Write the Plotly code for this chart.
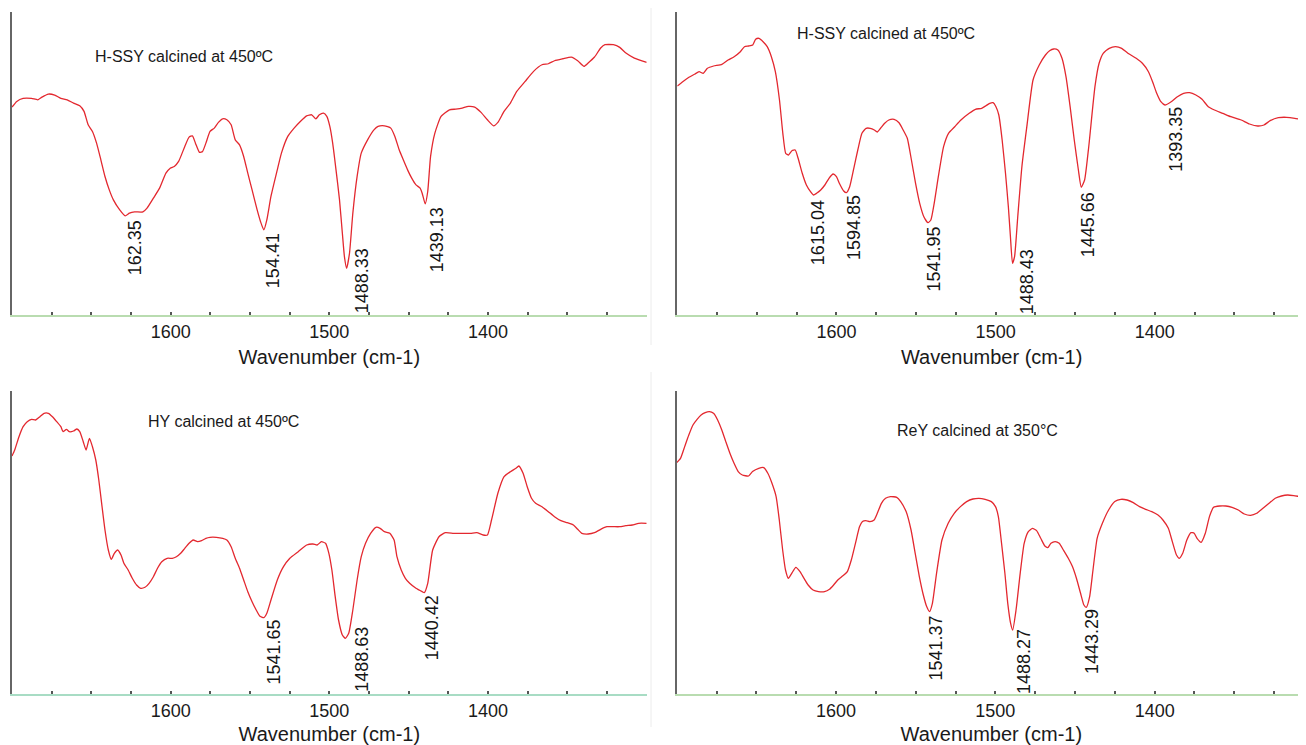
import plotly.graph_objects as go

# ---------------- data (wavenumber in cm-1, transmittance in arbitrary units) ----------------
p1_wn = [1700, 1697.0, 1693.0, 1687.7, 1683.7, 1681.1, 1677.1, 1673.1, 1669.2, 1665.2, 1661.2, 1657.3,
         1654.6, 1652.0, 1649.3, 1646.7, 1644.0, 1641.4, 1638.7, 1636.1, 1632.1, 1628.7, 1626.0, 1622.8,
         1617.5, 1614.9, 1610.9, 1607.0, 1603.0, 1600.3, 1597.7, 1595.0, 1591.1, 1588.4, 1586.3, 1584.4,
         1581.8, 1579.9, 1577.8, 1575.2, 1572.5, 1569.9, 1567.2, 1564.6, 1561.9, 1559.3, 1556.6, 1554.0,
         1551.4, 1548.7, 1545.5, 1543.4, 1541.3, 1539.4, 1536.8, 1532.8, 1530.2, 1526.2, 1522.2, 1518.3,
         1514.3, 1511.1, 1508.5, 1506.3, 1503.7, 1501.6, 1499.7, 1497.9, 1495.8, 1493.6, 1491.8, 1490.5,
         1489.1, 1487.3, 1485.2, 1482.5, 1479.9, 1475.9, 1471.9, 1469.3, 1465.3, 1461.3, 1458.7, 1456.0,
         1453.4, 1450.7, 1448.1, 1445.4, 1442.8, 1441.5, 1439.6, 1438.0, 1436.2, 1433.5, 1429.6, 1424.3,
         1420.3, 1416.3, 1412.4, 1408.4, 1404.4, 1400.4, 1396.5, 1393.8, 1389.9, 1385.9, 1381.9, 1376.6,
         1371.3, 1366.0, 1362.0, 1358.1, 1352.8, 1347.5, 1343.5, 1339.5, 1336.9, 1332.9, 1329.0, 1326.3,
         1321.0, 1317.0, 1313.1, 1307.8, 1300]
p1_t = [208, 213.7, 216.7, 216.7, 215.3, 218, 221, 220, 216.7, 215.3, 212, 209.3,
        203.7, 190.3, 183.7, 172, 155.3, 138.7, 125.3, 115.3, 105.3, 99.3, 102, 103.3,
        103.3, 107, 117, 127, 142, 147, 148.7, 153.7, 168.7, 178, 179.3, 172,
        162.7, 163.7, 172, 183.7, 187, 192.7, 196.3, 195.3, 190.3, 175.3, 170.3, 158.7,
        142, 125.3, 105.3, 93.7, 85.3, 95.3, 118.7, 145.3, 162, 178.7, 187, 193.7,
        199.3, 200.3, 196.3, 200.3, 202, 198.7, 188.7, 172, 145.3, 115.3, 82, 58.7,
        47, 62, 102, 138.7, 162, 175.3, 185.3, 188.7, 189.3, 187, 178.7, 165.3,
        155.3, 145.3, 137, 130.3, 127, 122, 111.3, 123.7, 158.7, 182, 198.7, 205.3,
        206, 207, 208.7, 208, 202.7, 195.3, 189.3, 192.7, 203.7, 212, 223.7, 233.7,
        243.7, 250.3, 251.3, 254.3, 256.3, 258, 254.3, 248.7, 252, 258, 267, 270.3,
        270.3, 267.7, 262, 257, 252.7]

p2_wn = [1700.0, 1696.6, 1692.7, 1688.9, 1686.3, 1683.7, 1681.1, 1677.2, 1672.0, 1668.1, 1664.3, 1660.4,
         1657.8, 1655.2, 1652.6, 1650.8, 1648.7, 1646.1, 1643.5, 1640.9, 1638.4, 1635.8, 1633.7, 1631.9,
         1630.1, 1628.0, 1625.9, 1624.1, 1621.5, 1618.9, 1616.3, 1614.5, 1612.5, 1609.9, 1607.3, 1604.7,
         1602.1, 1600.0, 1598.2, 1595.6, 1593.8, 1591.7, 1589.1, 1586.6, 1584.0, 1581.4, 1578.8, 1576.2,
         1574.4, 1572.3, 1569.7, 1567.1, 1563.8, 1560.7, 1558.1, 1555.5, 1552.9, 1550.3, 1547.7, 1545.1,
         1542.5, 1540.7, 1538.6, 1536.0, 1532.7, 1529.6, 1525.7, 1521.8, 1516.6, 1512.7, 1508.8, 1506.3,
         1503.7, 1501.6, 1499.8, 1498.0, 1495.9, 1493.8, 1492.0, 1490.7, 1489.4, 1488.1, 1486.1, 1483.5,
         1480.4, 1476.5, 1472.6, 1468.7, 1466.1, 1463.5, 1460.9, 1458.3, 1455.8, 1453.2, 1450.6, 1448.0,
         1446.2, 1444.1, 1441.5, 1437.6, 1435.0, 1432.4, 1428.6, 1424.7, 1420.8, 1416.9, 1411.7, 1407.8,
         1404.0, 1401.4, 1398.8, 1396.2, 1393.6, 1389.7, 1385.8, 1381.9, 1378.1, 1374.2, 1370.3, 1366.4,
         1362.5, 1357.3, 1352.2, 1345.7, 1340.5, 1335.3, 1331.4, 1327.5, 1322.4, 1317.2, 1312.0, 1304.8,
         1300]
p2_t = [229, 233.3, 237.7, 241, 243.3, 241.7, 246.7, 249, 250.7, 255, 258.3, 263.3,
        268.3, 269, 270, 275.7, 276.7, 273.3, 268.3, 258.3, 243.3, 215, 181.7, 161.7,
        160, 164.3, 165, 156.7, 141.7, 130, 123.3, 120, 121.7, 125, 130, 136.7,
        141, 138.3, 131.7, 124.3, 122.3, 128.3, 146.7, 165, 181.7, 186.7, 186.7, 185,
        183, 186.7, 191.7, 195, 195.7, 192.3, 185, 176.7, 155, 131.7, 111.7, 98.3,
        92.3, 95, 111.7, 138.3, 168.3, 181.7, 188.3, 195, 201.7, 205.7, 206.7, 209,
        211.7, 212.3, 208.3, 200, 175, 141.7, 108.3, 78.3, 51.7, 58.3, 98.3, 148.3,
        188.3, 235, 250, 260, 264.3, 266, 265, 256.7, 238.3, 208.3, 175, 145,
        127.7, 135, 168.3, 228.3, 251.7, 261.7, 266.7, 268.3, 266.7, 261.7, 256.7, 251.7,
        243.3, 233.3, 221.7, 213.3, 210, 213.3, 218.3, 221.7, 222.3, 220, 215.7, 208.3,
        205, 201.7, 198.3, 195, 191, 189, 190, 194.3, 197.3, 197.7, 196.7, 194.3,
        193]

p3_wn = [1700, 1698.3, 1695.6, 1693.0, 1690.4, 1687.7, 1685.1, 1682.4, 1679.8, 1677.1, 1674.5, 1671.8,
         1669.2, 1667.8, 1665.7, 1663.9, 1661.2, 1659.1, 1657.3, 1655.1, 1653.3, 1651.2, 1649.3, 1647.2,
         1645.3, 1643.5, 1641.4, 1639.3, 1637.4, 1635.5, 1633.4, 1631.3, 1629.5, 1626.8, 1624.2, 1621.5,
         1618.9, 1616.2, 1613.6, 1610.9, 1608.3, 1605.6, 1602.2, 1599.0, 1596.4, 1593.7, 1591.1, 1588.4,
         1585.8, 1583.1, 1580.5, 1577.8, 1575.2, 1571.2, 1567.2, 1564.6, 1561.9, 1559.3, 1556.6, 1554.0,
         1551.4, 1548.7, 1546.1, 1543.9, 1541.3, 1539.4, 1536.8, 1532.8, 1528.9, 1524.9, 1519.6, 1514.3,
         1510.3, 1507.7, 1505.0, 1502.4, 1500.3, 1498.4, 1496.3, 1494.2, 1491.8, 1489.9, 1487.8, 1485.2,
         1482.5, 1479.9, 1477.2, 1474.0, 1470.6, 1468.0, 1465.3, 1461.9, 1459.2, 1457.4, 1454.7, 1452.1,
         1449.4, 1445.4, 1441.5, 1440.2, 1438.0, 1434.9, 1430.9, 1426.9, 1421.6, 1416.3, 1411.0, 1407.1,
         1403.1, 1400.4, 1397.8, 1393.8, 1389.9, 1385.9, 1382.4, 1380.6, 1377.9, 1375.3, 1372.6, 1370.0,
         1366.0, 1362.0, 1358.1, 1354.1, 1350.1, 1346.2, 1343.5, 1340.9, 1336.9, 1332.9, 1329.0, 1325.0,
         1321.0, 1317.0, 1313.1, 1309.1, 1305.1, 1300]
p3_t = [238, 244, 257.3, 267.3, 272.3, 274.7, 274, 277.3, 280.7, 280.7, 277.3, 272.3,
        267.3, 262.3, 264.7, 262.3, 263, 265, 262.3, 252.3, 244, 255.7, 247.3, 234,
        214, 190.7, 164, 144, 134.7, 140.7, 144, 139, 130.7, 124, 115.7, 109,
        105.7, 106.7, 110.7, 117.3, 125.7, 132.3, 135.7, 135.7, 137.3, 140.7, 145.7, 150.7,
        154, 152.3, 153.3, 155.7, 156.7, 156.7, 155.7, 154, 147.3, 135.7, 125.7, 114,
        102.3, 92.3, 84, 78, 76.3, 80.7, 94, 114, 127.3, 135.7, 142.3, 149,
        150, 149, 152.3, 150.7, 140.7, 124, 97.3, 74, 59, 55.7, 60.7, 84,
        114, 137.3, 150.7, 160.7, 166.7, 165.7, 162.3, 160.7, 154, 137.3, 124, 115.7,
        110.7, 105.7, 102.3, 101.3, 110.7, 144, 157.3, 161.3, 160.7, 160.7, 160.7, 161.3,
        159, 159, 174, 200.7, 217.3, 222.3, 225.7, 228, 220.7, 207.3, 195.7, 190.7,
        187.3, 182.3, 177.3, 173.3, 171.3, 169, 164.7, 160.7, 160, 161.3, 164.7, 167.3,
        167.3, 167.3, 168.3, 169, 170.7, 170.7]

p4_wn = [1700, 1697.6, 1695.0, 1692.4, 1689.8, 1687.2, 1684.7, 1682.1, 1679.5, 1676.9, 1674.3, 1671.7,
         1669.2, 1666.6, 1664.0, 1661.4, 1658.8, 1654.9, 1652.4, 1648.5, 1645.4, 1642.8, 1640.2, 1637.6,
         1635.6, 1633.5, 1631.7, 1629.9, 1627.8, 1625.2, 1622.6, 1620.1, 1617.5, 1614.4, 1611.0, 1607.2,
         1604.1, 1601.5, 1598.9, 1596.3, 1592.9, 1590.4, 1587.8, 1585.2, 1583.4, 1581.3, 1578.7, 1576.1,
         1574.1, 1571.5, 1568.9, 1565.8, 1561.9, 1559.4, 1556.0, 1552.9, 1550.3, 1547.7, 1545.2, 1543.1,
         1541.3, 1539.5, 1536.9, 1533.5, 1529.6, 1525.8, 1521.9, 1518.0, 1514.1, 1510.3, 1506.4, 1502.5,
         1499.9, 1498.1, 1496.1, 1494.0, 1492.2, 1490.4, 1489.1, 1487.0, 1484.4, 1481.9, 1479.3, 1476.7,
         1474.1, 1471.5, 1468.9, 1467.1, 1465.1, 1462.5, 1459.9, 1457.3, 1454.2, 1451.6, 1449.1, 1446.5,
         1444.4, 1442.9, 1440.8, 1438.7, 1436.1, 1432.8, 1428.9, 1425.0, 1421.2, 1417.3, 1413.4, 1409.5,
         1405.7, 1401.8, 1397.9, 1394.8, 1391.4, 1388.9, 1386.3, 1384.5, 1382.4, 1379.8, 1377.2, 1375.2,
         1373.4, 1370.8, 1368.2, 1365.6, 1363.0, 1359.2, 1355.3, 1351.4, 1347.5, 1343.7, 1339.8, 1335.9,
         1332.0, 1328.2, 1324.3, 1320.4, 1316.5, 1312.7, 1308.8, 1305.4, 1300]
p4_t = [231.7, 236, 247.7, 259.3, 269.3, 275, 279.3, 281.7, 282.7, 281, 274.3, 264.3,
        252.7, 241, 231, 222.7, 219.3, 218.3, 222.7, 226, 226.7, 221, 211, 197.7,
        174.3, 144.3, 124.3, 116, 121, 127, 122.7, 116, 109.3, 104.3, 102.7, 102.7,
        105, 109.3, 114.3, 117.7, 122.7, 134.3, 151, 167.7, 172.7, 173.7, 172.7, 174.3,
        181, 191, 196, 197.7, 197, 192.7, 182.7, 164.3, 141, 117.7, 99.3, 87.7,
        82.7, 91, 121, 154.3, 171, 181, 187.7, 192.7, 195.3, 196, 195, 192.7,
        187.7, 177.7, 151, 121, 91, 71, 64.3, 84.3, 121, 151, 162.7, 166,
        163.7, 156, 148.3, 146.7, 151, 152.7, 151, 144.3, 136, 127.7, 116, 101,
        89.3, 87, 97.7, 124.3, 156, 171, 184.3, 192.7, 195, 194.3, 191.7, 187.7,
        185, 182.7, 179.3, 174.3, 166, 152.7, 139.3, 136, 141, 154.3, 161.7, 161,
        156, 152, 161, 177.7, 187, 188.3, 188.3, 187, 184.3, 180.3, 179, 181,
        186, 191, 196, 198.3, 199.3, 198.7, 197.7, 197, 196]

# peak labels: text, wavenumber position, transmittance at label top
p1_labels = ["162.35", "154.41", "1488.33", "1439.13"]
p1_lab_wn = [1622.8, 1535.5, 1479.3, 1432.2]
p1_lab_t = [97, 83.6, 68.6, 110.3]

p2_labels = ["1615.04", "1594.85", "1541.95", "1488.43", "1445.66", "1393.35"]
p2_lab_wn = [1611.2, 1588.6, 1538.7, 1480.4, 1441.5, 1387.1]
p2_lab_t = [117, 122, 90, 68, 125, 210]

p3_labels = ["1541.65", "1488.63", "1440.42"]
p3_lab_wn = [1535.5, 1479.9, 1435.4]
p3_lab_t = [76, 69, 101]

p4_labels = ["1541.37", "1488.27", "1443.29"]
p4_lab_wn = [1537.4, 1481.9, 1439.2]
p4_lab_t = [81, 67, 87]

panel_titles = ["H-SSY calcined at 450ºC", "H-SSY calcined at 450ºC",
                "HY calcined at 450ºC", "ReY calcined at 350°C"]
title_wn = [1649.0, 1626.1, 1615.6, 1563.0]
title_t = [258.3, 281, 273, 263.3]

x_title = "Wavenumber (cm-1)"
tick_vals = [1675, 1650, 1625, 1600, 1575, 1550, 1525, 1500, 1475, 1450, 1425, 1400, 1375, 1350, 1325]
tick_text = ["", "", "", "1600", "", "", "", "1500", "", "", "", "1400", "", "", ""]

# ---------------- figure ----------------
# the page body keeps its default 8px margin, so the figure is sized to end at the window edge
OFF = 8
W, H = 1306 - OFF, 745 - OFF
FONT = "Liberation Sans, Arial, Helvetica, sans-serif"
RED = "#e3282f"


def px(xp):
    return (xp - OFF) / W


def py(yp):
    return 1 - (yp - OFF) / H


panels = [
    (p1_wn, p1_t, p1_labels, p1_lab_wn, p1_lab_t),
    (p2_wn, p2_t, p2_labels, p2_lab_wn, p2_lab_t),
    (p3_wn, p3_t, p3_labels, p3_lab_wn, p3_lab_t),
    (p4_wn, p4_t, p4_labels, p4_lab_wn, p4_lab_t),
]

x_domains = [[px(12), px(646.7)], [px(677.3), 1.0], [px(12), px(646.7)], [px(676.7), 1.0]]
y_domains = [[py(315.3), py(12)], [py(315), py(12)], [py(694), py(391)], [py(694.3), py(391.3)]]
x_ranges = [[1700, 1300], [1700, 1305], [1700, 1300], [1700, 1305]]
axis_colors = ["#b9dcb0", "#b9dcb0", "#a8dcc4", "#b9dcb0"]

fig = go.Figure()
annotations = []
for i, (wn, t, labs, lwn, lt) in enumerate(panels):
    n = i + 1
    xa = "x" if n == 1 else f"x{n}"
    ya = "y" if n == 1 else f"y{n}"
    fig.add_trace(go.Scatter(x=wn, y=t, mode="lines", xaxis=xa, yaxis=ya,
                             line=dict(color=RED, width=1.3, shape="spline", smoothing=0.5),
                             showlegend=False, hoverinfo="x+y"))
    for txt, xv, yv in zip(labs, lwn, lt):
        annotations.append(dict(x=xv, y=yv, xref=xa, yref=ya, text=txt, showarrow=False,
                                textangle=-90, xanchor="center", yanchor="top",
                                font=dict(family=FONT, size=18, color="#151515")))
    annotations.append(dict(x=title_wn[i], y=title_t[i], xref=xa, yref=ya, text=panel_titles[i],
                            showarrow=False, xanchor="left", yanchor="middle",
                            font=dict(family=FONT, size=16, color="#1a1a1a")))
    xkey = "xaxis" if n == 1 else f"xaxis{n}"
    ykey = "yaxis" if n == 1 else f"yaxis{n}"
    fig.layout[xkey] = dict(domain=x_domains[i], range=x_ranges[i], anchor=ya,
                            showline=True, linecolor=axis_colors[i], linewidth=2,
                            showgrid=False, zeroline=False,
                            tickmode="array", tickvals=tick_vals, ticktext=tick_text,
                            ticks="inside", ticklen=3, tickwidth=1.5, tickcolor="#555555",
                            tickfont=dict(family=FONT, size=18, color="#1a1a1a"),
                            ticklabelstandoff=-1,
                            title=dict(text=x_title, standoff=9,
                                       font=dict(family=FONT, size=20, color="#1a1a1a")))
    fig.layout[ykey] = dict(domain=y_domains[i], range=[0, 303], anchor=xa,
                            showline=True, linecolor="#666666", linewidth=1.5,
                            showgrid=False, zeroline=False, showticklabels=False, ticks="")

shapes = [
    dict(type="line", xref="paper", yref="paper", x0=px(651), x1=px(651), y0=py(345), y1=1.0,
         line=dict(color="#ececec", width=1)),
    dict(type="line", xref="paper", yref="paper", x0=px(651), x1=px(651), y0=py(727), y1=py(372),
         line=dict(color="#ececec", width=1)),
]

fig.update_layout(width=W, height=H, margin=dict(l=0, r=0, t=0, b=0),
                  paper_bgcolor="white", plot_bgcolor="white",
                  annotations=annotations, shapes=shapes,
                  font=dict(family=FONT))

fig.write_html("out.html")
